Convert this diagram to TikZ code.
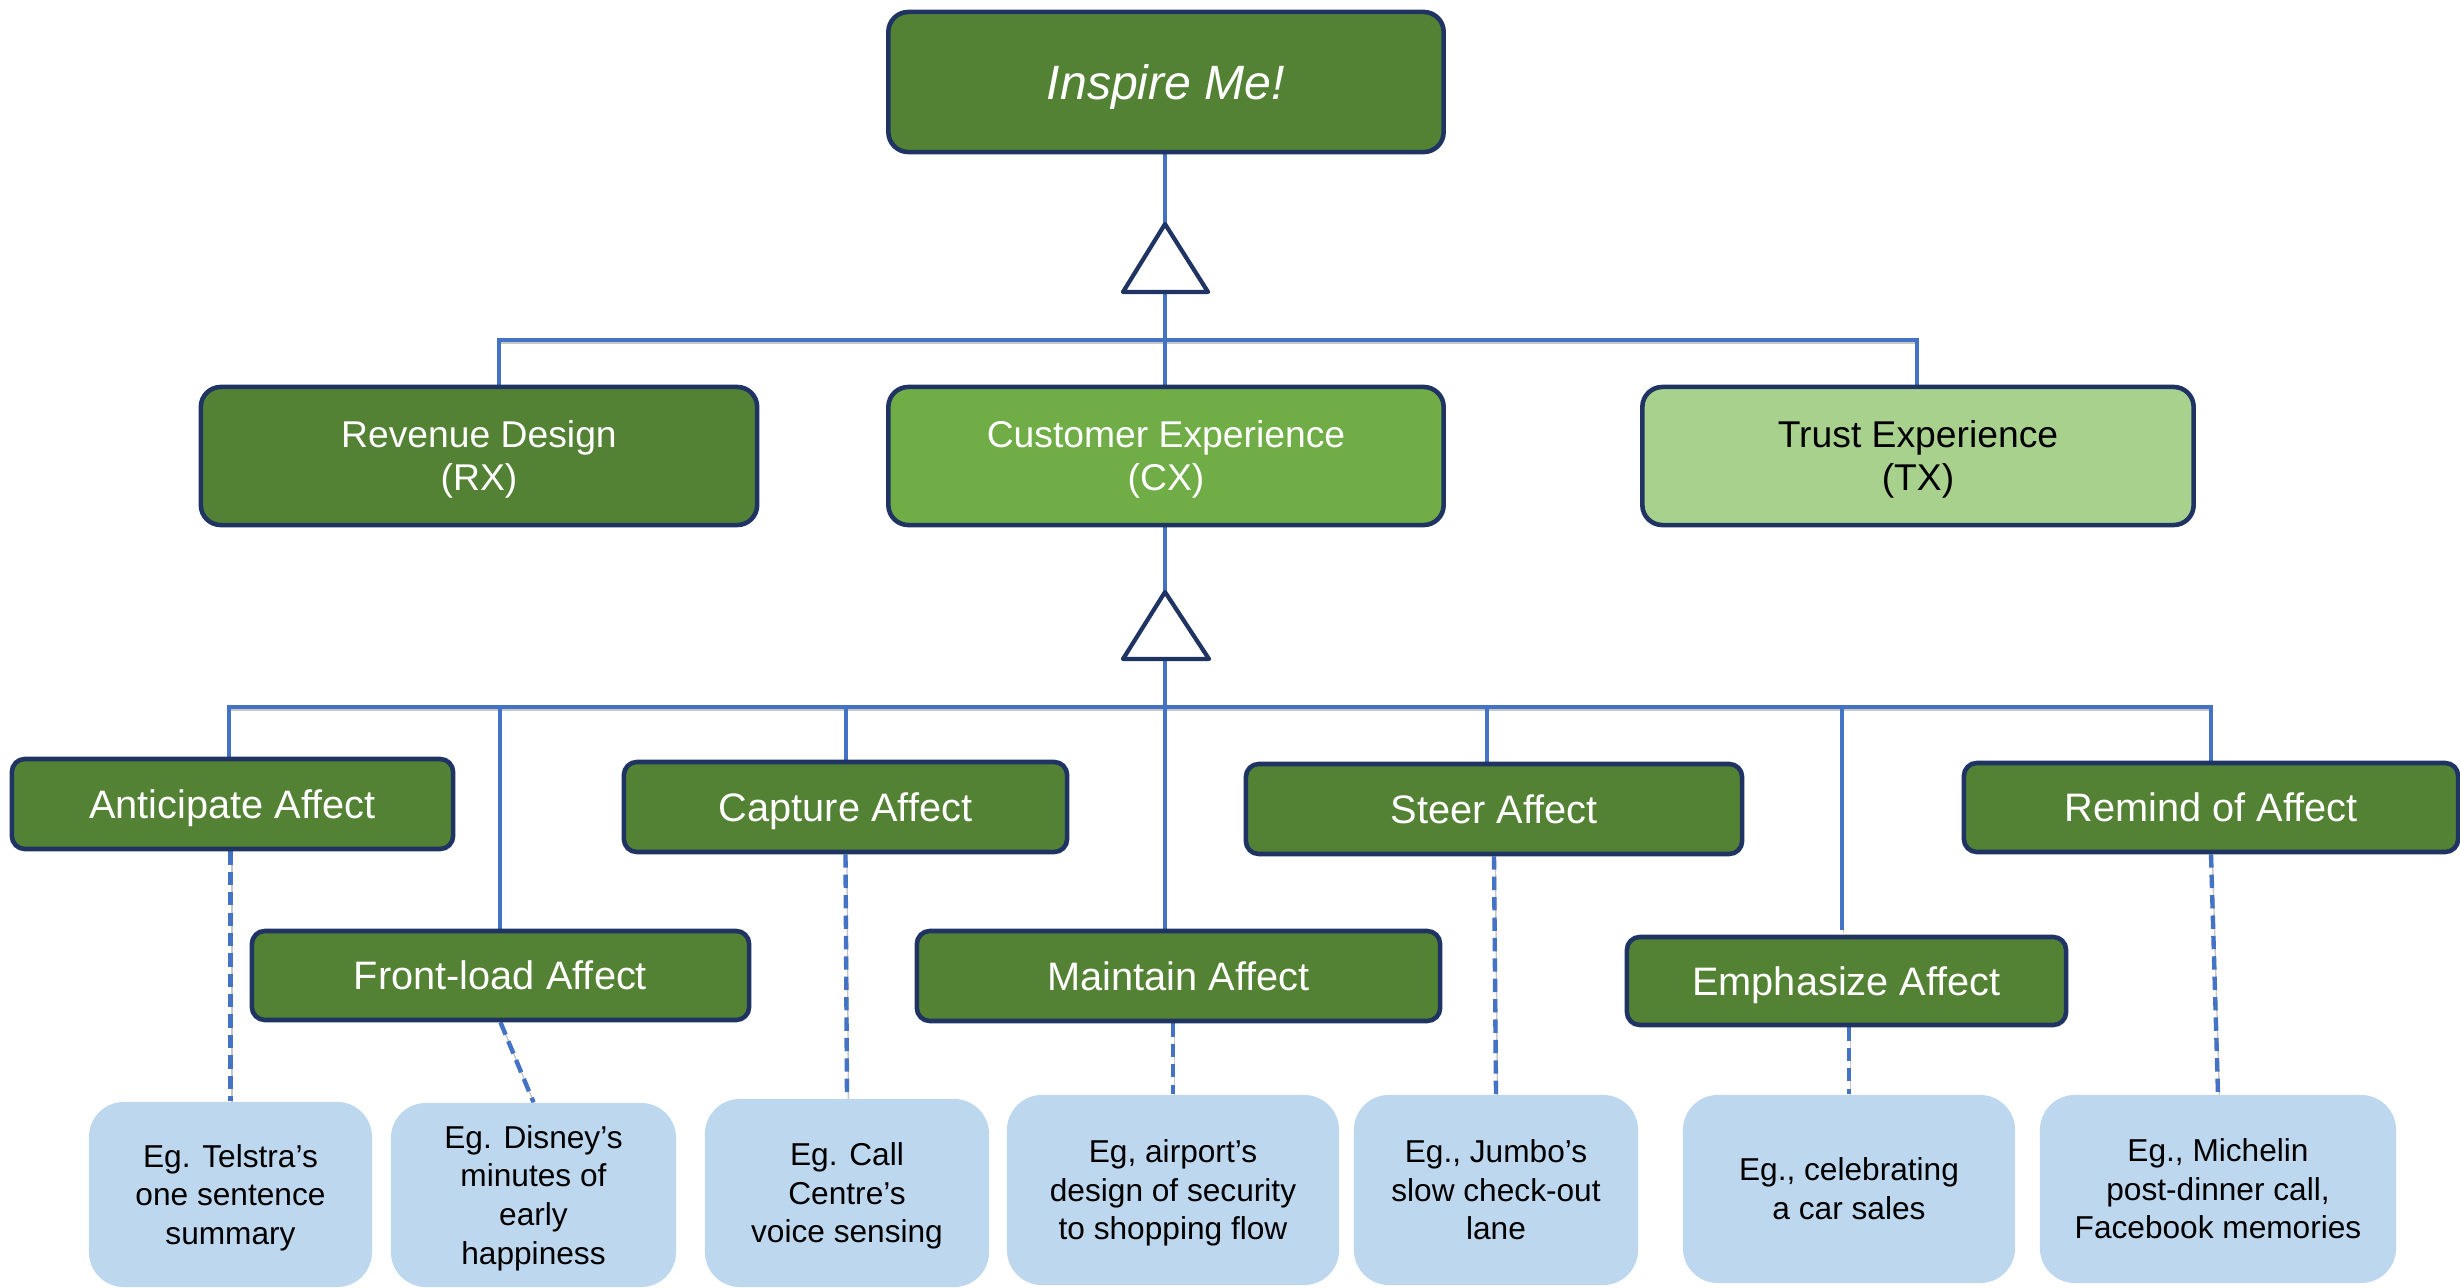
\documentclass[tikz,border=0pt]{standalone}
\usepackage{fontspec}
\setmainfont{Liberation Sans}
\usetikzlibrary{calc,backgrounds}

\definecolor{leafgreen}{HTML}{548235}
\definecolor{midgreen}{HTML}{70AD47}
\definecolor{palegreen}{HTML}{A9D18E}
\definecolor{navyedge}{HTML}{1F3462}
\definecolor{wireblue}{HTML}{4472C4}
\definecolor{skyfill}{HTML}{BDD7EE}

\begin{document}
\begin{tikzpicture}[
  x=0.01cm, y=-0.01cm,
  box/.style={rectangle, rounded corners=0.2cm, draw=navyedge, line width=1.3pt,
              align=center, text=white, inner sep=0pt, text depth=0pt},
  topbox/.style={box, minimum height=1.38cm, text height=19.9pt,
              font=\fontsize{10.6}{12.3}\selectfont},
  affectbox/.style={box, rounded corners=0.13cm, fill=leafgreen, minimum height=0.90cm,
              text height=8.1pt, font=\fontsize{11.3}{13}\selectfont},
  examplebox/.style={rectangle, rounded corners=0.35cm, fill=skyfill, align=center,
              inner sep=0pt, text=black, text depth=0pt, font=\fontsize{9}{11}\selectfont},
  twolines/.style={text height=17.4pt},
  threelines/.style={text height=28.4pt},
  fourlines/.style={text height=39.4pt},
  conn/.style={draw=wireblue, line width=1.25pt,
              preaction={draw=black!22, transform canvas={xshift=0.4pt, yshift=-0.8pt}}},
  dashconn/.style={conn, dash pattern=on 3.8pt off 2pt},
  tri/.style={draw=navyedge, fill=white, line width=1.2pt, line join=round}
]
\useasboundingbox (0,0) rectangle (2460,1288);

% ---------- top level ----------
\node[box, fill=leafgreen, minimum width=5.55cm, minimum height=1.40cm, text height=9.8pt,
      font=\fontsize{13.7}{16}\selectfont\itshape] (inspire) at (1166,82) {Inspire Me!};

\node[topbox, fill=leafgreen, minimum width=5.56cm] (rx) at (479,456) {Revenue Design\\(RX)};
\node[topbox, fill=midgreen, minimum width=5.55cm] (cx) at (1166,456) {Customer Experience\\(CX)};
\node[topbox, fill=palegreen, text=black, minimum width=5.51cm] (tx) at (1918,456) {Trust Experience\\(TX)};

% ---------- affect level ----------
\node[affectbox, minimum width=4.41cm] (ant) at (232.5,804) {Anticipate Affect};
\node[affectbox, minimum width=4.97cm, minimum height=0.89cm] (fl) at (500.5,975.5) {Front-load Affect};
\node[affectbox, minimum width=4.43cm] (cap) at (845.5,807) {Capture Affect};
\node[affectbox, minimum width=5.23cm] (mai) at (1178.5,976) {Maintain Affect};
\node[affectbox, minimum width=4.96cm] (ste) at (1494,809) {Steer Affect};
\node[affectbox, minimum width=4.39cm, minimum height=0.88cm] (emp) at (1846.5,981) {Emphasize Affect};
\node[affectbox, minimum width=4.94cm, minimum height=0.89cm] (rem) at (2211,807.5) {Remind of Affect};

% ---------- examples ----------
\node[examplebox, threelines, minimum width=2.83cm, minimum height=1.85cm] (tel) at (230.5,1194.5)
  {Eg. Telstra’s\\one sentence\\summary};
\node[examplebox, fourlines, minimum width=2.85cm, minimum height=1.84cm] (dis) at (533.5,1195)
  {Eg. Disney’s\\minutes of\\early\\happiness};
\node[examplebox, threelines, minimum width=2.84cm, minimum height=1.88cm] (call) at (847,1193)
  {Eg. Call\\Centre’s\\voice sensing};
\node[examplebox, threelines, minimum width=3.32cm, minimum height=1.90cm] (air) at (1173,1190)
  {Eg, airport’s\\design of security\\to shopping flow};
\node[examplebox, threelines, minimum width=2.84cm, minimum height=1.90cm] (jum) at (1496,1190)
  {Eg., Jumbo’s\\slow check-out\\lane};
\node[examplebox, twolines, minimum width=3.32cm, minimum height=1.88cm] (cel) at (1849,1189)
  {Eg., celebrating\\a car sales};
\node[examplebox, threelines, minimum width=3.56cm, minimum height=1.88cm] (mic) at (2218,1189)
  {Eg., Michelin\\post-dinner call,\\Facebook memories};

% ---------- junction points ----------
\coordinate (t1apex) at (1165,224);
\coordinate (t1base) at (1165,292);
\coordinate (hub1)   at (1165,340);
\coordinate (rxin)   at (499,385);
\coordinate (txin)   at (1917,385);

\coordinate (t2apex) at (1165,592);
\coordinate (t2base) at (1165,659);
\coordinate (hub2)   at (1165,707);
\coordinate (antin)  at (229,757);
\coordinate (flin)   at (500,929);
\coordinate (capin)  at (846,760);
\coordinate (maiin)  at (1165,929);
\coordinate (stein)  at (1487,762);
\coordinate (empin)  at (1842,930);
\coordinate (remin)  at (2211,761);

\begin{scope}[on background layer]
  % generalisation into the three experiences
  \draw[conn] (t1apex |- inspire.south) -- (t1apex);
  \draw[conn] (t1base) -- (hub1);
  \draw[conn] (rxin) |- (hub1) -| (txin);
  \draw[conn] (hub1) -- (hub1 |- cx.north);

  % generalisation into the affect patterns
  \draw[conn] (t2apex |- cx.south) -- (t2apex);
  \draw[conn] (antin) |- (hub2) -| (remin);
  \draw[conn] (t2base) -- (maiin);
  \draw[conn] (flin) -- (flin |- hub2);
  \draw[conn] (capin) -- (capin |- hub2);
  \draw[conn] (stein) -- (stein |- hub2);
  \draw[conn] (empin) -- (empin |- hub2);

  % examples
  \draw[dashconn] (tel.north |- ant.south) -- (tel.north);
  \draw[dashconn] (fl.south) -- (dis.north);
  \draw[dashconn] (cap.south) -- (call.north);
  \draw[dashconn] (air.north |- mai.south) -- (air.north);
  \draw[dashconn] (ste.south) -- (jum.north);
  \draw[dashconn] (cel.north |- emp.south) -- (cel.north);
  \draw[dashconn] (rem.south) -- (mic.north);
\end{scope}

% inheritance triangles
\draw[tri] (t1apex) -- (1208,292) -- (1123,292) -- cycle;
\draw[tri] (t2apex) -- (1209,659) -- (1123,659) -- cycle;

\end{tikzpicture}
\end{document}
